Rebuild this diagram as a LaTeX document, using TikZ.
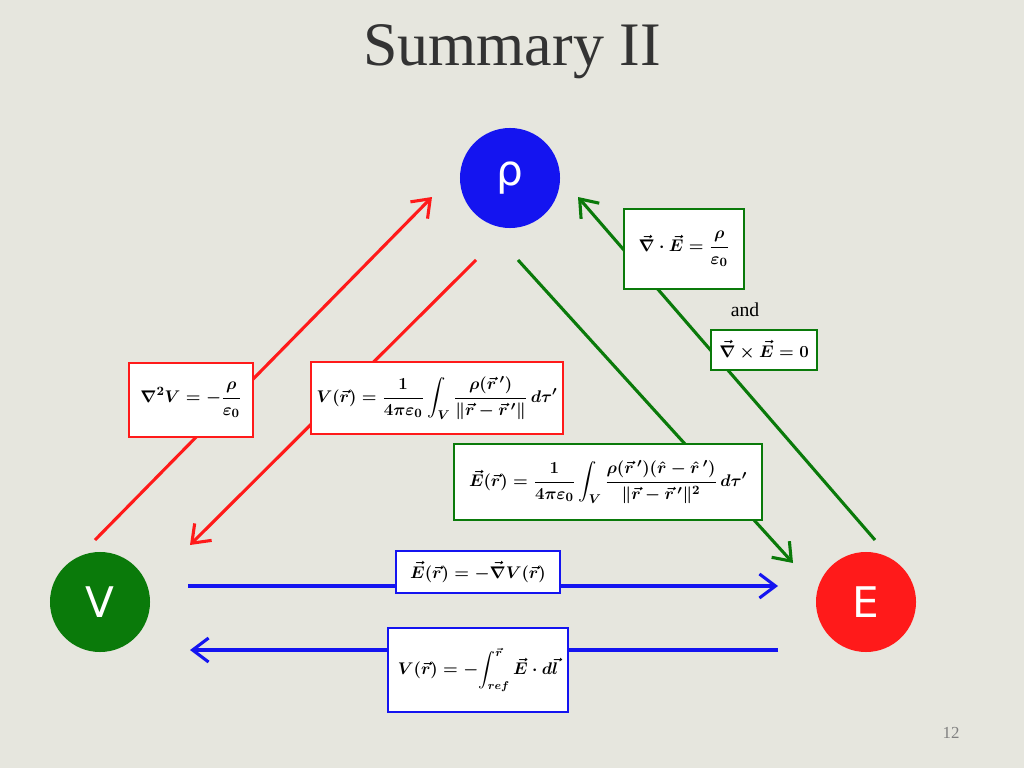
\documentclass[tikz,border=0pt]{standalone}
\usepackage{amsmath,amssymb}
\usepackage{fontspec}
\newfontfamily\titlefont{Liberation Serif}
\newfontfamily\sansf{DejaVu Sans}
\usetikzlibrary{arrows.meta}
\definecolor{bg}{HTML}{E6E6DE}
\definecolor{myblue}{HTML}{1414F0}
\definecolor{mygreen}{HTML}{0A7A0A}
\definecolor{myred}{HTML}{FF1A1A}
\definecolor{titlec}{HTML}{333333}
\newcommand{\eqLap}{$\displaystyle\nabla^2 V=-\frac{\rho}{\varepsilon_0}$}
\newcommand{\eqVint}{$\displaystyle V(\vec r)=\frac{1}{4\pi\varepsilon_0}\int_V\frac{\rho(\vec r\,')}{\lVert\vec r-\vec r\,'\rVert}\,d\tau'$}
\newcommand{\eqDiv}{$\displaystyle\vec\nabla\cdot\vec E=\frac{\rho}{\varepsilon_0}$}
\newcommand{\eqCurl}{$\vec\nabla\times\vec E=0$}
\newcommand{\eqEint}{$\displaystyle\vec E(\vec r)=\frac{1}{4\pi\varepsilon_0}\int_V\frac{\rho(\vec r\,')(\hat r-\hat r\,')}{\lVert\vec r-\vec r\,'\rVert^2}\,d\tau'$}
\newcommand{\eqGrad}{$\vec E(\vec r)=-\vec\nabla V(\vec r)$}
\newcommand{\eqLine}{$\displaystyle V(\vec r)=-\!\int_{ref}^{\vec r}\vec E\cdot d\vec l$}
\begin{document}
\begin{tikzpicture}[x=0.025cm,y=-0.025cm,
  ball/.style={circle,minimum size=2.5cm,inner sep=0pt,text=white,font=\sansf\fontsize{30}{32}\selectfont},
  eqbox/.style={draw,line width=1.6pt,fill=white,inner sep=3pt,font=\fontsize{13}{15}\selectfont\boldmath},
  arr/.style={line width=2.2pt,-{Straight Barb[length=4mm,width=6mm]}}]
\fill[bg] (0,0) rectangle (1024,768);
\node[text=titlec,font=\titlefont\fontsize{44}{48}\selectfont] (title) at (512,52) {Summary II};
\node[ball,fill=myblue] (rho) at (510,178) {\raisebox{-4pt}{ρ}};
\node[ball,fill=mygreen] (V) at (100,602) {V};
\node[ball,fill=myred] (E) at (866,602) {E};
\coordinate (a1) at (95,540); \coordinate (a2) at (432,197);
\coordinate (b1) at (476,260); \coordinate (b2) at (190,545);
\coordinate (c1) at (518,260); \coordinate (c2) at (793,563);
\coordinate (d1) at (875,540); \coordinate (d2) at (578,197);
\coordinate (e1) at (188,586); \coordinate (e2) at (778,586);
\coordinate (f1) at (778,650); \coordinate (f2) at (190,650);
\draw[arr,myred] (a1) -- (a2);
\draw[arr,myred] (b1) -- (b2);
\draw[arr,mygreen] (c1) -- (c2);
\draw[arr,mygreen] (d1) -- (d2);
\draw[arr,myblue] (e1) -- (e2);
\draw[arr,myblue] (f1) -- (f2);
\node[eqbox,draw=myred,minimum width=3.1cm,minimum height=1.85cm] (lap) at (191,400) {\eqLap};
\node[eqbox,draw=myred,minimum width=6.3cm,minimum height=1.8cm] (vint) at (437,398) {\eqVint};
\node[eqbox,draw=mygreen,minimum width=3cm,minimum height=2cm] (div) at (684,249) {\eqDiv};
\node[font=\titlefont\fontsize{14}{16}\selectfont] (and) at (745,310) {and};
\node[eqbox,draw=mygreen,minimum width=2.65cm,minimum height=1cm] (curl) at (764,350) {\eqCurl};
\node[eqbox,draw=mygreen,minimum width=7.7cm,minimum height=1.9cm] (eint) at (608,482) {\eqEint};
\node[eqbox,draw=myblue,minimum width=4.1cm,minimum height=1.05cm] (grad) at (478,572) {\eqGrad};
\node[eqbox,draw=myblue,minimum width=4.5cm,minimum height=2.1cm,font=\fontsize{12}{14}\selectfont\boldmath] (line) at (478,670) {\eqLine};
\node[text=gray,font=\titlefont\fontsize{12}{14}\selectfont] (pg) at (951,733) {12};
\end{tikzpicture}
\end{document}
